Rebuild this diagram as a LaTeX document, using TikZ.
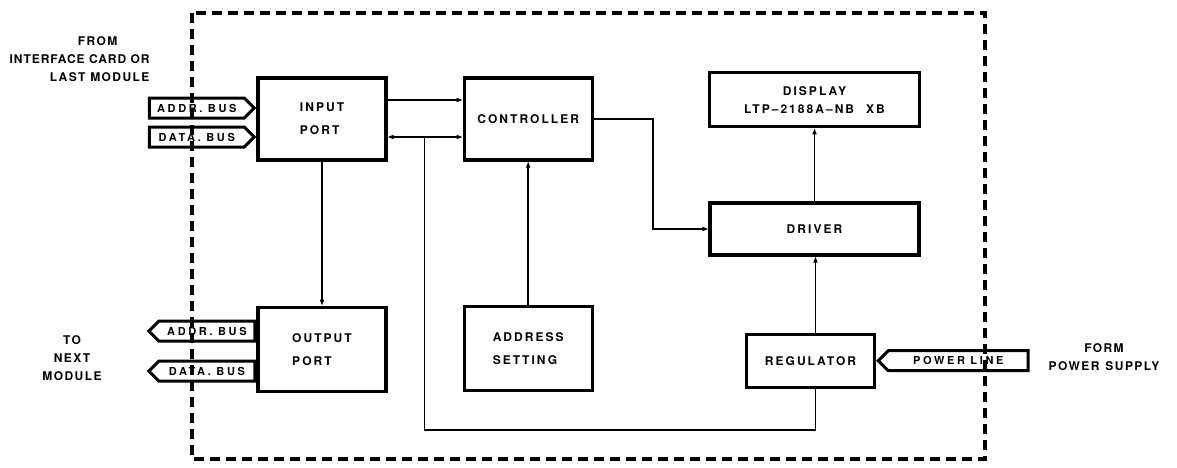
\documentclass[tikz,border=0pt]{standalone}
\usepackage{fontspec}
\setmainfont{TeX Gyre Heros}
\newfontfamily\boxfont[LetterSpace=17]{TeX Gyre Heros}
\newfontfamily\busfont[LetterSpace=24]{TeX Gyre Heros}
\newfontfamily\notefont[LetterSpace=12]{TeX Gyre Heros}
\usetikzlibrary{arrows.meta,positioning,shapes.symbols}

\begin{document}
\begin{tikzpicture}[x=1pt,y=-1pt,
  blk/.style={draw,line width=3.2pt,minimum width=128pt,align=left,font=\boxfont\bfseries\fontsize{12}{23}\selectfont},
  bus/.style={draw,signal,line width=3pt,signal pointer angle=90,minimum height=20pt,inner sep=1pt,font=\busfont\bfseries\fontsize{11}{12}\selectfont},
  note/.style={align=center,font=\notefont\bfseries\fontsize{12}{18}\selectfont},
  wire/.style={line width=1.7pt}]
\useasboundingbox (0,0) rectangle (1177,467);
\draw[line width=3.2pt,dash pattern=on 10pt off 6pt] (192,13) rectangle (985,459);
\node[blk,minimum height=82pt] (inp) at (322,119) {INPUT\\PORT};
\node[blk,minimum height=82pt,right=75pt of inp] (ctl) {CONTROLLER};
\node[blk,minimum height=84pt,below=144pt of inp] (outp) {OUTPUT\\PORT};
\node[blk,minimum height=84pt,below=143pt of ctl] (adr) {ADDRESS\\SETTING};
\node[blk,minimum width=209pt,minimum height=52pt] (drv) at (814.5,229) {DRIVER};
\node[blk,minimum width=210pt,minimum height=54pt,align=center,above=73pt of drv,font=\boxfont\bfseries\fontsize{12}{18}\selectfont] (disp) {DISPLAY\\LTP–2188A–NB\quad XB};
\node[blk,minimum height=53pt,below=76pt of drv,xshift=-4pt] (reg) {REGULATOR};
\node[bus,signal to=east,minimum width=105pt,anchor=east] (ia) at ([yshift=11pt]inp.west) {ADDR.\enspace BUS};
\node[bus,signal to=east,minimum width=105pt,anchor=east] (id) at ([yshift=-18pt]inp.west) {DATA.\enspace BUS};
\node[bus,signal to=west,minimum width=106pt,anchor=east] (oa) at ([yshift=18pt]outp.west) {ADDR.\enspace BUS};
\node[bus,signal to=west,minimum width=106pt,anchor=east] (od) at ([yshift=-22pt]outp.west) {DATA.\enspace BUS};
\node[bus,signal to=west,minimum width=150pt,anchor=west] (pwr) at (reg.east) {POWER\enspace LINE};
\node[note,align=right,anchor=east] (from) at (153,59) {FROM\kern32pt\\{\addfontfeature{LetterSpace=8}INTERFACE CARD OR}\\LAST MODULE};
\node[note] (to) at (72,358) {TO\\NEXT\\MODULE};
\node[note] (src) at (1104,357) {FORM\\POWER\enspace SUPPLY};
\coordinate (jn) at ([xshift=37pt,yshift=-18pt]inp.east);
\draw[wire,-{Triangle[length=6pt,width=4pt]}] ([yshift=19pt]inp.east) -- ([yshift=19pt]inp.east -| ctl.west);
\draw[wire,{Triangle[length=6pt,width=4pt]}-{Triangle[length=6pt,width=4pt]}] ([yshift=-18pt]inp.east) -- ([yshift=-18pt]inp.east -| ctl.west);
\draw[wire,-{Triangle[length=6pt,width=4pt]}] (inp.south) -- (inp.south |- outp.north);
\draw[wire,-{Triangle[length=6pt,width=4pt]}] (adr.north) -- (adr.north |- ctl.south);
\draw[wire,-{Triangle[length=6pt,width=4pt]}] (ctl.east) -- ++(59,0) |- (drv.west);
\draw[wire,-{Triangle[length=6pt,width=4pt]}] (drv.north) -- (drv.north |- disp.south);
\draw[wire,-{Triangle[length=6pt,width=4pt]}] ([xshift=5pt]reg.north) -- ([xshift=5pt]reg.north |- drv.south);
\draw[wire] ([xshift=5pt]reg.south) -- ++(0,41) -| (jn);
\end{tikzpicture}
\end{document}
